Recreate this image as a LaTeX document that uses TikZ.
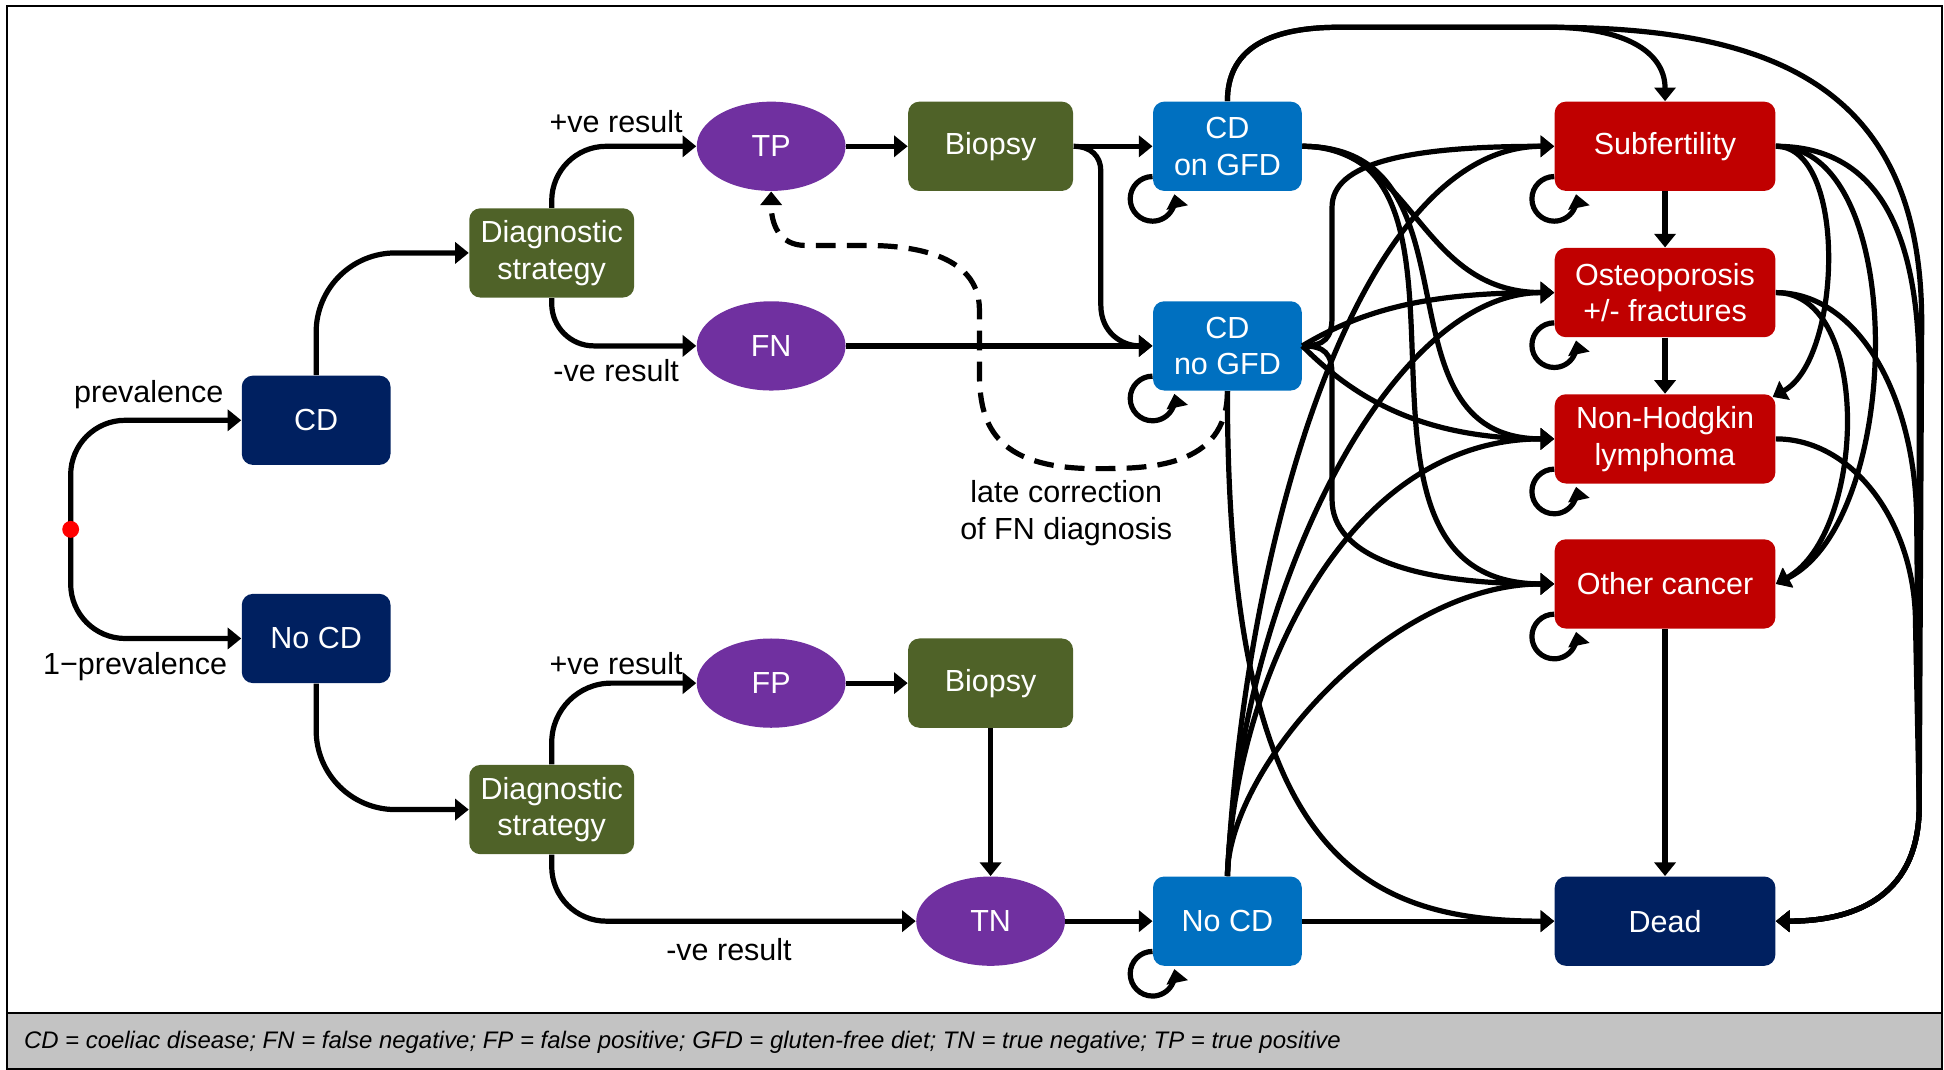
\documentclass[tikz,border=0pt]{standalone}
\usepackage{fontspec}
\setmainfont{Liberation Sans}
\usetikzlibrary{arrows.meta,shapes.geometric,calc}
\definecolor{navyc}{HTML}{002060}
\definecolor{olivec}{HTML}{4F6228}
\definecolor{bluec}{HTML}{0070C0}
\definecolor{redc}{HTML}{C00000}
\definecolor{purplec}{HTML}{7030A0}
\definecolor{footgray}{HTML}{C3C3C3}
\newcommand\mynodefont{\fontsize{12.3}{14.8}\selectfont}
\newcommand\myfootfont{\fontsize{9.65}{11.5}\selectfont\itshape}
\tikzset{
  sbox/.style={rounded corners=4.5pt, minimum width=60pt, minimum height=36pt, inner sep=0pt, text=white, align=center, font=\mynodefont},
  navybox/.style={sbox, fill=navyc},
  olivebox/.style={sbox, fill=olivec, minimum width=66.5pt},
  bluebox/.style={sbox, fill=bluec},
  redbox/.style={sbox, fill=redc, minimum width=89pt},
  ovalnode/.style={ellipse, fill=purplec, minimum width=60pt, minimum height=36pt, inner sep=0pt, text=white, font=\mynodefont},
  conn/.style={line width=2.1pt, -{Triangle[length=5.5pt,width=8.5pt]}},
  lbl/.style={font=\mynodefont, text=black, inner sep=0pt},
  selfloop/.style={conn}
}
\begin{document}
\begin{tikzpicture}[x=0.5pt,y=0.5pt]
\useasboundingbox (0,0) rectangle (1568,863);
% frame and footer
\fill[footgray] (6,1) rectangle (1566,46);
\draw[line width=0.8pt] (6,46) -- (1566,46);
\draw[line width=0.8pt] (6,1) rectangle (1566,858);
\node[anchor=west, font=\myfootfont, inner sep=0pt] (foot) at (19,22) {CD = coeliac disease; FN = false negative; FP = false positive; GFD = gluten-free diet; TN = true negative; TP = true positive};

% nodes
\node[navybox] (CD) at (255,524) {CD};
\node[navybox] (NoCD) at (255,348) {No CD};
\node[olivebox] (D1) at (445,659) {Diagnostic\\strategy};
\node[olivebox] (D2) at (445,210) {Diagnostic\\strategy};
\node[ovalnode] (TP) at (622,745) {TP};
\node[ovalnode] (FN) at (622,584) {FN};
\node[ovalnode] (FP) at (622,312) {FP};
\node[ovalnode] (TN) at (799,120) {TN};
\node[olivebox] (B1) at (799,745) {Biopsy};
\node[olivebox] (B2) at (799,312) {Biopsy};
\node[bluebox] (CDg) at (990,745) {CD\\on GFD};
\node[bluebox] (CDn) at (990,584) {CD\\no GFD};
\node[bluebox] (NoCDb) at (990,120) {No CD};
\node[redbox] (Sub) at (1343,745) {Subfertility};
\node[redbox] (Ost) at (1343,627) {Osteoporosis\\+/- fractures};
\node[redbox] (NHL) at (1343,509) {Non-Hodgkin\\lymphoma};
\node[redbox] (Oth) at (1343,392) {Other cancer};
\node[navybox, minimum width=89pt] (Dead) at (1343,120) {Dead};

% labels
\node[lbl] (lprev) at (120,545) {prevalence};
\node[lbl] (lnprev) at (109,325) {1−prevalence};
\node[lbl] (lp1) at (497,765) {+ve result};
\node[lbl] (ln1) at (497,564) {-ve result};
\node[lbl] (lp2) at (497,328) {+ve result};
\node[lbl] (ln2) at (588,97) {-ve result};
\node[lbl, align=center] (llate) at (860,449) {late correction\\of FN diagnosis};

% left part
\draw[conn, rounded corners=22pt] (57,442) |- (CD.west);
\draw[conn, rounded corners=22pt] (57,430) |- (NoCD.west);
\node[circle, fill=red, inner sep=0pt, minimum size=6.8pt] (dot) at (57,436) {};
\draw[conn, rounded corners=32pt] (CD.north) |- (D1.west);
\draw[conn, rounded corners=32pt] (NoCD.south) |- (D2.west);
\draw[conn, rounded corners=22pt] (D1.north) |- (TP.west);
\draw[conn, rounded corners=17pt] (D1.south) |- (FN.west);
\draw[conn, rounded corners=24pt] (D2.north) |- (FP.west);
\draw[conn, rounded corners=22pt] (D2.south) |- (TN.west);

% straight middle connectors
\draw[conn] (TP.east) -- (B1.west);
\draw[conn] (B1.east) -- (CDg.west);
\draw[conn] (B1.east) .. controls +(14,0) and +(0,12) .. ++(22,-20) -- ++(0,-108) .. controls +(0,-22) and +(-25,0) .. (CDn.west);
\draw[conn] (FN.east) -- (CDn.west);
\draw[conn] (FP.east) -- (B2.west);
\draw[conn] (B2.south) -- (TN.north);
\draw[conn] (TN.east) -- (NoCDb.west);

% dashed late correction
\draw[conn, dash pattern=on 8pt off 4.5pt] (CDn.south) .. controls +(0,-63) and +(40,0) .. (884,485) .. controls +(-84,0) and +(0,-40) .. (790,563) -- (790,613) .. controls +(0,47) and +(30,0) .. (700,665) -- (650,665) .. controls +(-22,0) and +(0,-26) .. (TP.south);

% from CD on GFD
\draw[conn] (CDg.east) .. controls +(90,0) and +(-110,0) .. (Ost.west);
\draw[conn] (CDg.east) .. controls +(150,0) and +(-150,0) .. (NHL.west);
\draw[conn] (CDg.east) .. controls +(170,0) and +(-200,0) .. (Oth.west);
\draw[conn] (CDg.north) .. controls +(0,40) and +(-60,0) .. (1080,841) -- (1250,841) .. controls +(60,0) and +(0,40) .. (Sub.north);
\draw[conn] (CDg.north) .. controls +(0,40) and +(-60,0) .. (1080,841) -- (1250,841) .. controls +(180,0) and +(0,190) .. (1550,603) -- (1548,213) .. controls +(0,-70) and +(68,0) .. (Dead.east);

% from CD no GFD
\draw[conn] (CDn.east) .. controls +(18,0) and +(0,-18) .. ++(24,24) -- ++(0,88) .. controls +(0,35) and +(-120,0) .. (Sub.west);
\draw[conn] (CDn.east) .. controls +(18,0) and +(0,18) .. ++(24,-24) -- ++(0,-100) .. controls +(0,-45) and +(-115,0) .. (Oth.west);
\draw[conn] (CDn.east) .. controls +(50,30) and +(-100,0) .. (Ost.west);
\draw[conn] (CDn.east) .. controls +(40,-40) and +(-110,0) .. (NHL.west);
\draw[conn] (CDn.south) .. controls +(0,-365) and +(-164,0) .. (Dead.west);

% from No CD
\draw[conn] (NoCDb.north) .. controls +(15,286) and +(-154,0) .. (Sub.west);
\draw[conn] (NoCDb.north) .. controls +(10,226) and +(-134,0) .. (Ost.west);
\draw[conn] (NoCDb.north) .. controls +(5,146) and +(-174,0) .. (NHL.west);
\draw[conn] (NoCDb.north) .. controls +(0,86) and +(-134,0) .. (Oth.west);
\draw[conn] (NoCDb.east) -- (Dead.west);

% among complications
\draw[conn] (Sub.south) -- (Ost.north);
\draw[conn] (Ost.south) -- (NHL.north);
\draw[conn] (Oth.south) -- (Dead.north);
\draw[conn] (Sub.east) .. controls +(58,0) and +(56,31) .. ([xshift=-1.3pt,yshift=-1.3pt]NHL.north east);
\draw[conn] (Sub.east) .. controls +(108,0) and +(103,51) .. (Oth.east);
\draw[conn] (Ost.east) .. controls +(78,0) and +(73,41) .. (Oth.east);
\draw[conn] (Sub.east) .. controls +(80,0) and +(0,120) .. (1548,560) -- (1548,213) .. controls +(0,-70) and +(68,0) .. (Dead.east);
\draw[conn] (Ost.east) .. controls +(68,0) and +(0,100) .. (1546,440) -- (1548,213) .. controls +(0,-70) and +(68,0) .. (Dead.east);
\draw[conn] (NHL.east) .. controls +(63,0) and +(0,80) .. (1545,360) -- (1548,213) .. controls +(0,-70) and +(68,0) .. (Dead.east);

% self loops
\foreach \n in {CDg,CDn,NoCDb,Sub,Ost,NHL,Oth}{
  \draw[selfloop] ([yshift=6pt]\n.south west) arc[start angle=90,end angle=372,radius=9pt];
}
\end{tikzpicture}
\end{document}
